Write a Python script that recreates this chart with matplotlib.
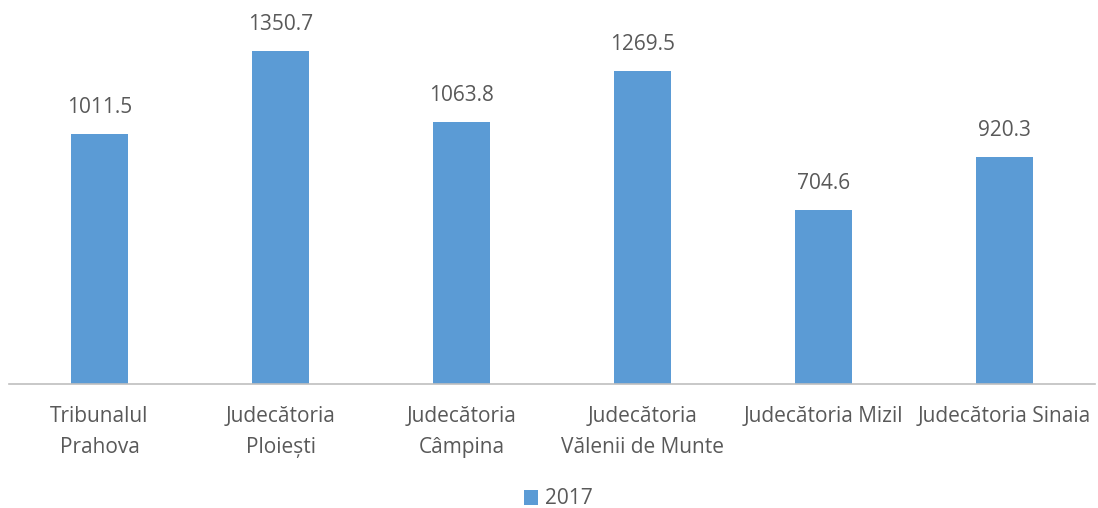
import matplotlib.pyplot as plt

categories = ["Tribunalul\nPrahova", "Judecătoria\nPloiești", "Judecătoria\nCâmpina",
              "Judecătoria\nVălenii de Munte", "Judecătoria Mizil", "Judecătoria Sinaia"]
values_2017 = [1011.5, 1350.7, 1063.8, 1269.5, 704.6, 920.3]
series_label = "2017"

plt.rcParams['font.family'] = ['Open Sans', 'DejaVu Sans']
text_color = '#595959'
bar_color = '#5B9BD5'

fig = plt.figure(figsize=(10.98, 5.08), dpi=100)
ax = fig.add_axes([9 / 1098, 124 / 508, 1086 / 1098, 370 / 508])

x = list(range(len(categories)))
bars = ax.bar(x, values_2017, width=0.31, color=bar_color, label=series_label)
ax.set_xlim(-0.5, len(categories) - 0.5)
ax.set_ylim(0, 1500)

for xi, v in zip(x, values_2017):
    ax.text(xi, v + 65, f"{v:.1f}", ha='center', va='bottom', fontsize=15, color=text_color)

ax.set_xticks(x)
ax.set_xticklabels(categories, fontsize=15, color=text_color, linespacing=1.6)
ax.tick_params(axis='x', length=0, pad=16)
ax.set_yticks([])
for side in ['top', 'right', 'left']:
    ax.spines[side].set_visible(False)
ax.spines['bottom'].set_color('#BFBFBF')
ax.spines['bottom'].set_linewidth(1.2)

fig.legend(handles=[bars], labels=[series_label], loc='center', bbox_to_anchor=(558 / 1098, 1 - 499 / 508),
           frameon=False, fontsize=15, handlelength=0.7, handleheight=0.7, handletextpad=0.3,
           labelcolor=text_color)

fig.savefig('out.png', dpi=100)
